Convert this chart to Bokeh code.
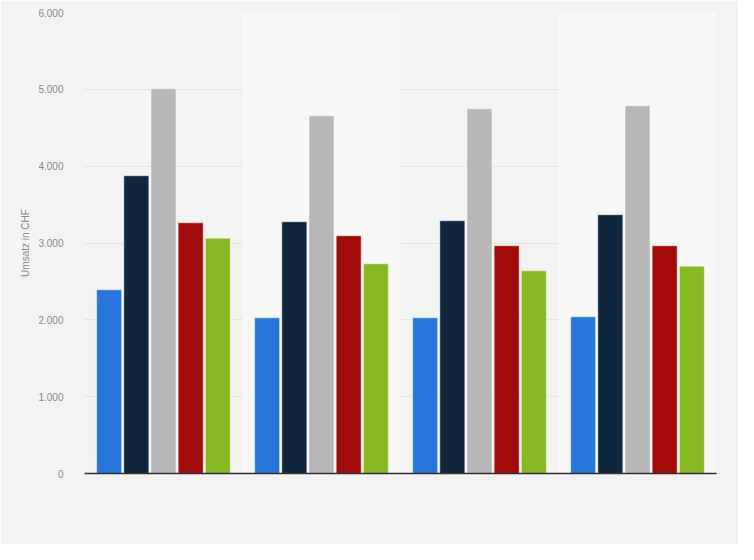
from bokeh.plotting import figure
from bokeh.models import FactorRange, Range1d, FixedTicker
from bokeh.transform import dodge
from bokeh.embed import file_html
from bokeh.resources import INLINE

groups = ["A", "B", "C", "D"]
series_blue = [2391, 2026, 2026, 2039]
series_navy = [3875, 3276, 3289, 3367]
series_gray = [5007, 4655, 4747, 4786]
series_red = [3263, 3094, 2964, 2964]
series_green = [3063, 2729, 2638, 2698]
series = [series_blue, series_navy, series_gray, series_red, series_green]
colors = ["#2876dd", "#10263d", "#b7b7b7", "#a30b0b", "#87b923"]
offsets = [-0.344, -0.172, 0.0, 0.172, 0.344]
band_groups = [groups[1], groups[3]]
y_ticks = [0, 1000, 2000, 3000, 4000, 5000, 6000]
y_tick_labels = ["0", "1.000", "2.000", "3.000", "4.000", "5.000", "6.000"]
y_max = 6000

BG = "#f3f3f3"
p = figure(
    x_range=FactorRange(*groups, range_padding=0),
    y_range=Range1d(0, y_max),
    width=738, height=544,
    output_backend="svg", toolbar_location=None,
    min_border_left=84, min_border_right=22,
    min_border_top=12, min_border_bottom=71,
)
p.background_fill_color = BG
p.border_fill_color = BG
p.outline_line_color = None

# alternating bands
p.vbar(x=band_groups, width=1.0, bottom=0, top=[y_max] * len(band_groups),
       fill_color="#f8f8f8", line_color=None)

for vals, col, off in zip(series, colors, offsets):
    p.vbar(x=dodge("g", off, range=p.x_range), top="v", width=0.158,
           source={"g": groups, "v": vals},
           fill_color=col, line_color="white", line_alpha=0.45, line_width=1)

p.xgrid.grid_line_color = None
p.ygrid.grid_line_color = "#d6d6d6"
p.ygrid.grid_line_dash = "1 1"
p.ygrid.grid_line_width = 1
p.ygrid.ticker = FixedTicker(ticks=y_ticks)

ya = p.yaxis[0]
ya.ticker = FixedTicker(ticks=y_ticks)
ya.major_label_overrides = {t: l for t, l in zip(y_ticks, y_tick_labels)}
ya.axis_line_color = None
ya.major_tick_line_color = None
ya.minor_tick_line_color = None
ya.major_label_standoff = 15
ya.major_label_text_font = "Liberation Sans"
ya.major_label_text_font_size = "10px"
ya.major_label_text_color = "#8a8a8a"
ya.axis_label = "Umsatz in CHF"
ya.axis_label_text_font = "Liberation Sans"
ya.axis_label_text_font_size = "10px"
ya.axis_label_text_font_style = "normal"
ya.axis_label_text_color = "#8a8a8a"
ya.axis_label_standoff = 4

xa = p.xaxis[0]
xa.axis_line_color = "#333333"
xa.axis_line_width = 1.5
xa.major_tick_line_color = None
xa.minor_tick_line_color = None
xa.major_label_text_font_size = "0px"
xa.major_label_text_color = None

html = file_html(p, INLINE)
html = html.replace("<body>", '<body style="background:#f3f3f3">', 1)
open("out.html", "w").write(html)
